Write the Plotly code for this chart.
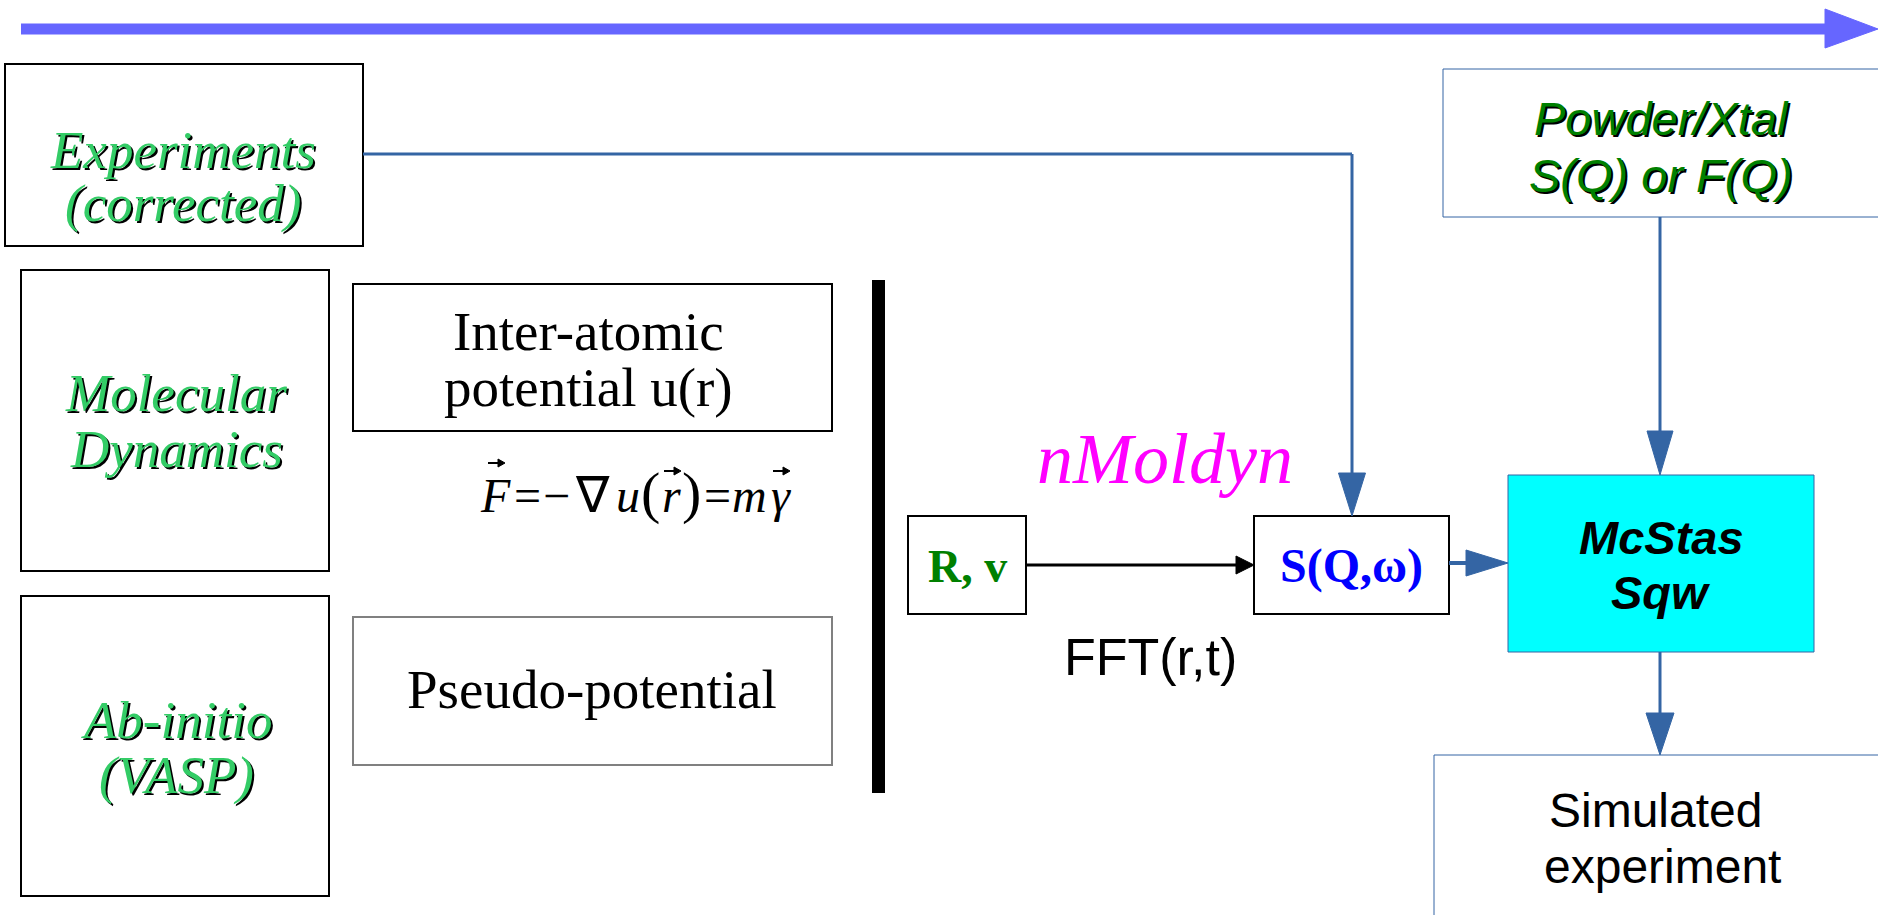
import plotly.graph_objects as go

W, H = 1878, 915

# ---- text content of the diagram ----
exp_lines = ["Experiments", "(corrected)"]
md_lines = ["Molecular", "Dynamics"]
ab_lines = ["Ab-initio", "(VASP)"]
pot_lines = ["Inter-atomic", "potential u(r)"]
pseudo_lines = ["Pseudo-potential"]
eq_tokens = ["F", "=", "\u2212", "\u2207", "u", "(", "r", ")", "=", "m", "\u03b3"]
eq_italic = [True, False, False, False, True, False, True, False, False, True, True]
eq_vector = [True, False, False, False, False, False, True, False, False, False, True]
rv_label = "R, v"
sqw_label = "S(Q,\u03c9)"
tool_label = "nMoldyn"
fft_label = "FFT(r,t)"
powder_lines = ["Powder/Xtal", "S(Q) or F(Q)"]
mcstas_lines = ["McStas", "Sqw"]
sim_lines = ["Simulated", "experiment"]

# ---- layout (pixel positions of the drawing) ----
eq_x = [495, 527, 556, 592, 628, 650, 671, 691, 717, 749, 781]
eq_size = [48, 48, 48, 50, 48, 58, 48, 58, 48, 48, 48]
eq_arrow = [(488, 463), None, None, None, None, None, (664, 471), None, None, None, (773, 471)]

SERIF = "Liberation Serif"
SANS = "Liberation Sans"
BLUE = "#3465a4"

fig = go.Figure()
shapes = []
annos = []


def rect(x0, y0, x1, y1, color="#000", width=2, fill="rgba(0,0,0,0)"):
    shapes.append(dict(type="rect", xref="x", yref="y", x0=x0, y0=y0, x1=x1, y1=y1,
                       line=dict(color=color, width=width), fillcolor=fill, layer="above"))


def seg(x0, y0, x1, y1, color, width):
    shapes.append(dict(type="line", xref="x", yref="y", x0=x0, y0=y0, x1=x1, y1=y1,
                       line=dict(color=color, width=width), layer="above"))


def poly(pts, color):
    p = "M " + " L ".join(f"{x},{y}" for x, y in pts) + " Z"
    shapes.append(dict(type="path", xref="x", yref="y", path=p, fillcolor=color,
                       line=dict(color=color, width=1), layer="above"))


def text(x, y, s, size, color="#000", family=SERIF, style="normal", weight="normal", shadow="none"):
    annos.append(dict(x=x, y=y, xref="x", yref="y", text=s, showarrow=False,
                      xanchor="center", yanchor="middle", borderpad=0,
                      font=dict(family=family, size=size, color=color, style=style,
                                weight=weight, shadow=shadow)))


# top progress arrow
seg(21, 29, 1827, 29, "#6666ff", 11)
poly([(1825, 9), (1878, 29), (1825, 48)], "#6666ff")

# left boxes
rect(5, 64, 363, 246)
rect(21, 270, 329, 571)
rect(21, 596, 329, 896)
GREEN_L = "#33cc66"
SH = "2px 2px 0px #000"
GS = 53
text(183, 150, exp_lines[0], GS, GREEN_L, SERIF, "italic", shadow=SH)
text(183, 203, exp_lines[1], GS, GREEN_L, SERIF, "italic", shadow=SH)
text(176, 393, md_lines[0], GS, GREEN_L, SERIF, "italic", shadow=SH)
text(176, 449, md_lines[1], GS, GREEN_L, SERIF, "italic", shadow=SH)
text(176, 720, ab_lines[0], GS, GREEN_L, SERIF, "italic", shadow=SH)
text(176, 775, ab_lines[1], GS, GREEN_L, SERIF, "italic", shadow=SH)

# potentials
rect(353, 284, 832, 431)
text(588, 331, pot_lines[0], 55)
text(588, 387, pot_lines[1], 55)
for tok, it, x, sz, arr in zip(eq_tokens, eq_italic, eq_x, eq_size, eq_arrow):
    text(x, 510 - 0.31 * sz, tok, sz, "#000", SERIF, "italic" if it else "normal")
    if arr is not None:
        x0, ay = arr
        seg(x0, ay, x0 + 11, ay, "#000", 2)
        poly([(x0 + 10, ay - 4), (x0 + 17, ay), (x0 + 10, ay + 4)], "#000")
rect(353, 617, 832, 765, color="#808080")
text(592, 689, pseudo_lines[0], 55)

# thick divider
rect(872, 280, 885, 793, color="#000", width=0, fill="#000")

# nMoldyn block
text(1165, 459, tool_label, 72, "#ff00ff", SERIF, "italic")
rect(908, 516, 1026, 614)
text(967, 566, rv_label, 46, "#008000", SERIF, weight="bold")
rect(1254, 516, 1449, 614)
text(1351, 566, sqw_label, 48, "#0000ff", SERIF, weight="bold")
seg(1026, 565, 1238, 565, "#000", 3)
poly([(1236, 556), (1254, 565), (1236, 574)], "#000")
text(1150, 657, fft_label, 52, "#000", SANS)

# connector from experiments to S(Q,w)
seg(363, 154, 1352, 154, BLUE, 3)
seg(1352, 154, 1352, 475, BLUE, 3)
poly([(1338.5, 473), (1352, 516), (1365.5, 473)], BLUE)

# powder box
rect(1443, 69, 1890, 217, color=BLUE, width=1)
text(1661, 118, powder_lines[0], 47, "#008000", SANS, "italic", shadow="2px 2px 0px #000")
text(1661, 175, powder_lines[1], 47, "#008000", SANS, "italic", shadow="2px 2px 0px #000")
seg(1660, 217, 1660, 433, BLUE, 3)
poly([(1647, 431), (1660, 475), (1673, 431)], BLUE)

# McStas box
rect(1508, 475, 1814, 652, color=BLUE, width=1, fill="#00ffff")
text(1661, 537, mcstas_lines[0], 47, "#000", SANS, "italic", "bold")
text(1661, 592, mcstas_lines[1], 47, "#000", SANS, "italic", "bold")
seg(1449, 563, 1468, 563, BLUE, 4)
poly([(1466, 550), (1508, 563), (1466, 576)], BLUE)

# simulated experiment
seg(1660, 652, 1660, 715, BLUE, 3)
poly([(1646, 713), (1660, 755), (1674, 713)], BLUE)
rect(1434, 755, 1895, 930, color=BLUE, width=1)
text(1655, 810, sim_lines[0], 48, "#000", SANS)
text(1662, 866, sim_lines[1], 48, "#000", SANS)

fig.update_layout(
    width=W, height=H, margin=dict(l=0, r=0, t=0, b=0),
    paper_bgcolor="white", plot_bgcolor="white",
    xaxis=dict(range=[0, W], visible=False, fixedrange=True),
    yaxis=dict(range=[H, 0], visible=False, fixedrange=True),
    shapes=shapes, annotations=annos, showlegend=False,
)

fig.write_html("out.html", config={"displayModeBar": False},
               post_script="document.body.style.margin='0px';document.body.style.overflow='hidden';")
